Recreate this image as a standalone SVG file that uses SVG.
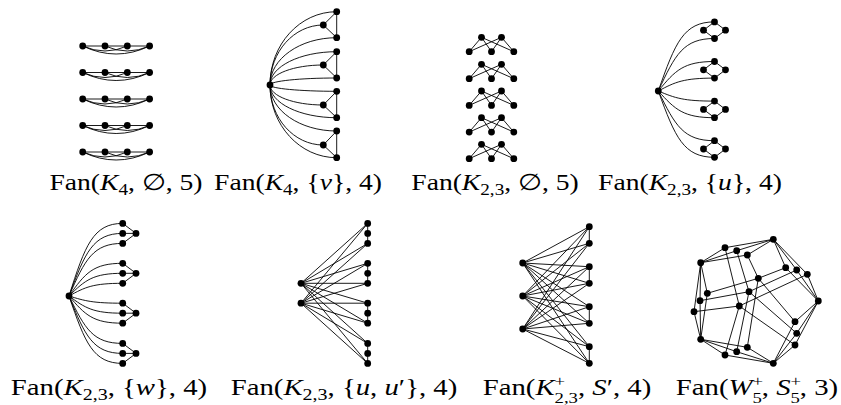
<svg xmlns="http://www.w3.org/2000/svg" width="841" height="405" viewBox="0 0 841 405">
<style>
.e{fill:none;stroke:#000;stroke-width:0.9}
.n{fill:#000}
.lb{font-family:"Liberation Serif","DejaVu Serif",serif;font-size:23px;fill:#000;text-anchor:middle}
.i{font-style:italic}
.s{font-size:16px}
.ss{font-size:15px}
</style>
<rect width="841" height="405" fill="#fff"/>
<g id="connectors">
<!-- panel 1 -->
<path class="e" d="M82.7 46H149.6M82.7 46Q105 56 127.3 46M105 46Q127.3 56 149.6 46M82.7 46Q116.15 62 149.6 46"/>
<path class="e" d="M82.7 72.5H149.6M82.7 72.5Q105 82.5 127.3 72.5M105 72.5Q127.3 82.5 149.6 72.5M82.7 72.5Q116.15 88.5 149.6 72.5"/>
<path class="e" d="M82.7 99H149.6M82.7 99Q105 109 127.3 99M105 99Q127.3 109 149.6 99M82.7 99Q116.15 115 149.6 99"/>
<path class="e" d="M82.7 125.5H149.6M82.7 125.5Q105 135.5 127.3 125.5M105 125.5Q127.3 135.5 149.6 125.5M82.7 125.5Q116.15 141.5 149.6 125.5"/>
<path class="e" d="M82.7 152H149.6M82.7 152Q105 162 127.3 152M105 152Q127.3 162 149.6 152M82.7 152Q116.15 168 149.6 152"/>
<!-- panel 2 -->
<path class="e" d="M270 85C270 44.5 299.9 11.7 336.7 11.7M270 85C270 51.9 293.9 25 323.3 25M270 85C270 58.9 299.9 37.7 336.7 37.7M270 85C270 66.6 299.9 51.7 336.7 51.7M270 85C270 74 293.9 65 323.3 65M270 85C270 81.1 299.9 78 336.7 78M270 85C270 88.5 299.9 91.3 336.7 91.3M270 85C270 96 293.9 105 323.3 105M270 85C270 103.1 299.9 117.7 336.7 117.7M270 85C270 110.4 299.9 131 336.7 131M270 85C270 118.1 293.9 145 323.3 145M270 85C270 125.1 299.9 157.7 336.7 157.7"/>
<path class="e" d="M336.7 11.7V37.7L323.3 25Z M336.7 51.7V78L323.3 65Z M336.7 91.3V117.7L323.3 105Z M336.7 131V157.7L323.3 145Z"/>
<!-- panel 3 -->
<path class="e" d="M469.2 51.7L481.5 37.3L491.5 51.7M481.5 37.3L513.8 51.7M469.2 51.7L501.5 37.3L491.5 51.7M501.5 37.3L513.8 51.7"/>
<path class="e" d="M469.2 78.7L481.5 64.3L491.5 78.7M481.5 64.3L513.8 78.7M469.2 78.7L501.5 64.3L491.5 78.7M501.5 64.3L513.8 78.7"/>
<path class="e" d="M469.2 105.4L481.5 91L491.5 105.4M481.5 91L513.8 105.4M469.2 105.4L501.5 91L491.5 105.4M501.5 91L513.8 105.4"/>
<path class="e" d="M469.2 132.1L481.5 117.7L491.5 132.1M481.5 117.7L513.8 132.1M469.2 132.1L501.5 117.7L491.5 132.1M501.5 117.7L513.8 132.1"/>
<path class="e" d="M469.2 158.7L481.5 144.3L491.5 158.7M481.5 144.3L513.8 158.7M469.2 158.7L501.5 144.3L491.5 158.7M501.5 144.3L513.8 158.7"/>
<!-- panel 4 -->
<path class="e" d="M658.3 91C675.2 42.6 683.6 21.9 714.5 21.9M658.3 91C675.2 54.3 683.6 38.5 714.5 38.5M658.3 91C675.2 70.4 683.6 61.5 714.5 61.5M658.3 91C675.2 82 683.6 78.1 714.5 78.1M658.3 91C675.2 98.1 683.6 101.1 714.5 101.1M658.3 91C675.2 109.7 683.6 117.7 714.5 117.7M658.3 91C675.2 125.8 683.6 140.7 714.5 140.7M658.3 91C675.2 137.4 683.6 157.3 714.5 157.3"/>
<path class="e" d="M714.5 21.9L703.5 30.2L714.5 38.5L725.5 30.2Z M714.5 61.5L703.5 69.8L714.5 78.1L725.5 69.8Z M714.5 101.1L703.5 109.4L714.5 117.7L725.5 109.4Z M714.5 140.7L703.5 149L714.5 157.3L725.5 149Z"/>
<!-- panel 5 -->
<path class="e" d="M69 296C85.1 245.2 93.2 223.4 122.7 223.4M69 296C85.1 252.2 93.2 233.4 122.7 233.4M69 296C85.1 259.2 93.2 243.4 122.7 243.4M69 296C85.1 273.1 93.2 263.3 122.7 263.3M69 296C85.1 280.1 93.2 273.3 122.7 273.3M69 296C85.1 287.1 93.2 283.3 122.7 283.3M69 296C85.1 301 93.2 303.2 122.7 303.2M69 296C85.1 308 93.2 313.2 122.7 313.2M69 296C85.1 315 93.2 323.2 122.7 323.2M69 296C85.1 329.2 93.2 343.4 122.7 343.4M69 296C85.1 336.2 93.2 353.4 122.7 353.4M69 296C85.1 343.2 93.2 363.4 122.7 363.4"/>
<path class="e" d="M122.7 223.4L136 233.4L122.7 243.4M122.7 233.4H136 M122.7 263.3L136 273.3L122.7 283.3M122.7 273.3H136 M122.7 303.2L136 313.2L122.7 323.2M122.7 313.2H136 M122.7 343.4L136 353.4L122.7 363.4M122.7 353.4H136"/>
<!-- panel 6 -->
<path class="e" d="M301 283.3L367.7 223.4M301 283.3L367.7 243.4M301 283.3L367.7 263.3M301 283.3L367.7 283.3M301 283.3L367.7 303.2M301 283.3L367.7 323.2M301 283.3L367.7 343.4M301 283.3L367.7 363.4M301 303.2L367.7 223.4M301 303.2L367.7 243.4M301 303.2L367.7 263.3M301 303.2L367.7 283.3M301 303.2L367.7 303.2M301 303.2L367.7 323.2M301 303.2L367.7 343.4M301 303.2L367.7 363.4"/>
<path class="e" d="M367.7 223.4V243.4M367.7 263.3V283.3M367.7 303.2V323.2M367.7 343.4V363.4"/>
<!-- panel 7 -->
<path class="e" d="M522.7 263L589.3 226.7M522.7 263L589.3 243.3M522.7 263L589.3 266.7M522.7 263L589.3 283.3M522.7 263L589.3 306.7M522.7 263L589.3 323.3M522.7 263L589.3 346.7M522.7 263L589.3 363.3"/>
<path class="e" d="M522.7 296L589.3 226.7M522.7 296L589.3 243.3M522.7 296L589.3 266.7M522.7 296L589.3 283.3M522.7 296L589.3 306.7M522.7 296L589.3 323.3M522.7 296L589.3 346.7M522.7 296L589.3 363.3"/>
<path class="e" d="M522.7 329L589.3 226.7M522.7 329L589.3 243.3M522.7 329L589.3 266.7M522.7 329L589.3 283.3M522.7 329L589.3 306.7M522.7 329L589.3 323.3M522.7 329L589.3 346.7M522.7 329L589.3 363.3"/>
<path class="e" d="M589.3 226.7V243.3M589.3 266.7V283.3M589.3 306.7V323.3M589.3 346.7V363.3"/>
<!-- panel 8 -->
<path class="e" d="M773.3 239.3L725 247.7M773.3 239.3L736.7 250.7M773.3 239.3L747.3 255M773.3 239.3L785.7 267.7M773.3 239.3L796.7 270M773.3 239.3L807.3 274.3"/>
<path class="e" d="M700.7 262.7L725 247.7M700.7 262.7L736.7 250.7M700.7 262.7L747.3 255M700.7 262.7L707.3 293.3M700.7 262.7L700 300.7M700.7 262.7L694 311.7"/>
<path class="e" d="M818.3 301L785.7 267.7M818.3 301L796.7 270M818.3 301L807.3 274.3M818.3 301L795 321.7M818.3 301L796.7 333.3M818.3 301L795 345"/>
<path class="e" d="M773.3 363.3L795 321.7M773.3 363.3L796.7 333.3M773.3 363.3L795 345M773.3 363.3L747.3 347.3M773.3 363.3L736.7 351.7M773.3 363.3L725 355"/>
<path class="e" d="M700.7 339.3L747.3 347.3M700.7 339.3L736.7 351.7M700.7 339.3L725 355M700.7 339.3L707.3 293.3M700.7 339.3L700 300.7M700.7 339.3L694 311.7"/>
<path class="e" d="M758.3 278.3L747.3 255M758.3 278.3L785.7 267.7M758.3 278.3L795 321.7M758.3 278.3L747.3 347.3M758.3 278.3L707.3 293.3"/>
<path class="e" d="M749 291.7L736.7 250.7M749 291.7L796.7 270M749 291.7L796.7 333.3M749 291.7L736.7 351.7M749 291.7L700 300.7"/>
<path class="e" d="M739.3 306L725 247.7M739.3 306L807.3 274.3M739.3 306L795 345M739.3 306L725 355M739.3 306L694 311.7"/>
</g>
<g id="nodes">
<g id="panel1">
<circle id="p1a1" class="n" cx="82.7" cy="46" r="3.4"/><circle id="p1b1" class="n" cx="105" cy="46" r="3.4"/><circle id="p1c1" class="n" cx="127.3" cy="46" r="3.4"/><circle id="p1d1" class="n" cx="149.6" cy="46" r="3.4"/>
<circle id="p1a2" class="n" cx="82.7" cy="72.5" r="3.4"/><circle id="p1b2" class="n" cx="105" cy="72.5" r="3.4"/><circle id="p1c2" class="n" cx="127.3" cy="72.5" r="3.4"/><circle id="p1d2" class="n" cx="149.6" cy="72.5" r="3.4"/>
<circle id="p1a3" class="n" cx="82.7" cy="99" r="3.4"/><circle id="p1b3" class="n" cx="105" cy="99" r="3.4"/><circle id="p1c3" class="n" cx="127.3" cy="99" r="3.4"/><circle id="p1d3" class="n" cx="149.6" cy="99" r="3.4"/>
<circle id="p1a4" class="n" cx="82.7" cy="125.5" r="3.4"/><circle id="p1b4" class="n" cx="105" cy="125.5" r="3.4"/><circle id="p1c4" class="n" cx="127.3" cy="125.5" r="3.4"/><circle id="p1d4" class="n" cx="149.6" cy="125.5" r="3.4"/>
<circle id="p1a5" class="n" cx="82.7" cy="152" r="3.4"/><circle id="p1b5" class="n" cx="105" cy="152" r="3.4"/><circle id="p1c5" class="n" cx="127.3" cy="152" r="3.4"/><circle id="p1d5" class="n" cx="149.6" cy="152" r="3.4"/>
</g>
<g id="panel2">
<circle id="p2hub" class="n" cx="270" cy="85" r="3.4"/>
<circle id="p2t1" class="n" cx="336.7" cy="11.7" r="3.4"/><circle id="p2m1" class="n" cx="323.3" cy="25" r="3.4"/><circle id="p2b1" class="n" cx="336.7" cy="37.7" r="3.4"/>
<circle id="p2t2" class="n" cx="336.7" cy="51.7" r="3.4"/><circle id="p2m2" class="n" cx="323.3" cy="65" r="3.4"/><circle id="p2b2" class="n" cx="336.7" cy="78" r="3.4"/>
<circle id="p2t3" class="n" cx="336.7" cy="91.3" r="3.4"/><circle id="p2m3" class="n" cx="323.3" cy="105" r="3.4"/><circle id="p2b3" class="n" cx="336.7" cy="117.7" r="3.4"/>
<circle id="p2t4" class="n" cx="336.7" cy="131" r="3.4"/><circle id="p2m4" class="n" cx="323.3" cy="145" r="3.4"/><circle id="p2b4" class="n" cx="336.7" cy="157.7" r="3.4"/>
</g>
<g id="panel3">
<circle id="p3u1a" class="n" cx="481.5" cy="37.3" r="3.4"/><circle id="p3u1b" class="n" cx="501.5" cy="37.3" r="3.4"/><circle id="p3l1a" class="n" cx="469.2" cy="51.7" r="3.4"/><circle id="p3l1b" class="n" cx="491.5" cy="51.7" r="3.4"/><circle id="p3l1c" class="n" cx="513.8" cy="51.7" r="3.4"/>
<circle id="p3u2a" class="n" cx="481.5" cy="64.3" r="3.4"/><circle id="p3u2b" class="n" cx="501.5" cy="64.3" r="3.4"/><circle id="p3l2a" class="n" cx="469.2" cy="78.7" r="3.4"/><circle id="p3l2b" class="n" cx="491.5" cy="78.7" r="3.4"/><circle id="p3l2c" class="n" cx="513.8" cy="78.7" r="3.4"/>
<circle id="p3u3a" class="n" cx="481.5" cy="91" r="3.4"/><circle id="p3u3b" class="n" cx="501.5" cy="91" r="3.4"/><circle id="p3l3a" class="n" cx="469.2" cy="105.4" r="3.4"/><circle id="p3l3b" class="n" cx="491.5" cy="105.4" r="3.4"/><circle id="p3l3c" class="n" cx="513.8" cy="105.4" r="3.4"/>
<circle id="p3u4a" class="n" cx="481.5" cy="117.7" r="3.4"/><circle id="p3u4b" class="n" cx="501.5" cy="117.7" r="3.4"/><circle id="p3l4a" class="n" cx="469.2" cy="132.1" r="3.4"/><circle id="p3l4b" class="n" cx="491.5" cy="132.1" r="3.4"/><circle id="p3l4c" class="n" cx="513.8" cy="132.1" r="3.4"/>
<circle id="p3u5a" class="n" cx="481.5" cy="144.3" r="3.4"/><circle id="p3u5b" class="n" cx="501.5" cy="144.3" r="3.4"/><circle id="p3l5a" class="n" cx="469.2" cy="158.7" r="3.4"/><circle id="p3l5b" class="n" cx="491.5" cy="158.7" r="3.4"/><circle id="p3l5c" class="n" cx="513.8" cy="158.7" r="3.4"/>
</g>
<g id="panel4">
<circle id="p4hub" class="n" cx="658.3" cy="91" r="3.4"/>
<circle id="p4t1" class="n" cx="714.5" cy="21.9" r="3.4"/><circle id="p4l1" class="n" cx="703.5" cy="30.2" r="3.4"/><circle id="p4r1" class="n" cx="725.5" cy="30.2" r="3.4"/><circle id="p4b1" class="n" cx="714.5" cy="38.5" r="3.4"/>
<circle id="p4t2" class="n" cx="714.5" cy="61.5" r="3.4"/><circle id="p4l2" class="n" cx="703.5" cy="69.8" r="3.4"/><circle id="p4r2" class="n" cx="725.5" cy="69.8" r="3.4"/><circle id="p4b2" class="n" cx="714.5" cy="78.1" r="3.4"/>
<circle id="p4t3" class="n" cx="714.5" cy="101.1" r="3.4"/><circle id="p4l3" class="n" cx="703.5" cy="109.4" r="3.4"/><circle id="p4r3" class="n" cx="725.5" cy="109.4" r="3.4"/><circle id="p4b3" class="n" cx="714.5" cy="117.7" r="3.4"/>
<circle id="p4t4" class="n" cx="714.5" cy="140.7" r="3.4"/><circle id="p4l4" class="n" cx="703.5" cy="149" r="3.4"/><circle id="p4r4" class="n" cx="725.5" cy="149" r="3.4"/><circle id="p4b4" class="n" cx="714.5" cy="157.3" r="3.4"/>
</g>
<g id="panel5">
<circle id="p5hub" class="n" cx="69" cy="296" r="3.4"/>
<circle id="p5a1" class="n" cx="122.7" cy="223.4" r="3.4"/><circle id="p5b1" class="n" cx="122.7" cy="233.4" r="3.4"/><circle id="p5c1" class="n" cx="122.7" cy="243.4" r="3.4"/><circle id="p5r1" class="n" cx="136" cy="233.4" r="3.4"/>
<circle id="p5a2" class="n" cx="122.7" cy="263.3" r="3.4"/><circle id="p5b2" class="n" cx="122.7" cy="273.3" r="3.4"/><circle id="p5c2" class="n" cx="122.7" cy="283.3" r="3.4"/><circle id="p5r2" class="n" cx="136" cy="273.3" r="3.4"/>
<circle id="p5a3" class="n" cx="122.7" cy="303.2" r="3.4"/><circle id="p5b3" class="n" cx="122.7" cy="313.2" r="3.4"/><circle id="p5c3" class="n" cx="122.7" cy="323.2" r="3.4"/><circle id="p5r3" class="n" cx="136" cy="313.2" r="3.4"/>
<circle id="p5a4" class="n" cx="122.7" cy="343.4" r="3.4"/><circle id="p5b4" class="n" cx="122.7" cy="353.4" r="3.4"/><circle id="p5c4" class="n" cx="122.7" cy="363.4" r="3.4"/><circle id="p5r4" class="n" cx="136" cy="353.4" r="3.4"/>
</g>
<g id="panel6">
<circle id="p6h1" class="n" cx="301" cy="283.3" r="3.4"/><circle id="p6h2" class="n" cx="301" cy="303.2" r="3.4"/>
<circle id="p6a1" class="n" cx="367.7" cy="223.4" r="3.4"/><circle id="p6b1" class="n" cx="367.7" cy="233.4" r="3.4"/><circle id="p6c1" class="n" cx="367.7" cy="243.4" r="3.4"/>
<circle id="p6a2" class="n" cx="367.7" cy="263.3" r="3.4"/><circle id="p6b2" class="n" cx="367.7" cy="273.3" r="3.4"/><circle id="p6c2" class="n" cx="367.7" cy="283.3" r="3.4"/>
<circle id="p6a3" class="n" cx="367.7" cy="303.2" r="3.4"/><circle id="p6b3" class="n" cx="367.7" cy="313.2" r="3.4"/><circle id="p6c3" class="n" cx="367.7" cy="323.2" r="3.4"/>
<circle id="p6a4" class="n" cx="367.7" cy="343.4" r="3.4"/><circle id="p6b4" class="n" cx="367.7" cy="353.4" r="3.4"/><circle id="p6c4" class="n" cx="367.7" cy="363.4" r="3.4"/>
</g>
<g id="panel7">
<circle id="p7h1" class="n" cx="522.7" cy="263" r="3.4"/><circle id="p7h2" class="n" cx="522.7" cy="296" r="3.4"/><circle id="p7h3" class="n" cx="522.7" cy="329" r="3.4"/>
<circle id="p7a1" class="n" cx="589.3" cy="226.7" r="3.4"/><circle id="p7b1" class="n" cx="589.3" cy="243.3" r="3.4"/>
<circle id="p7a2" class="n" cx="589.3" cy="266.7" r="3.4"/><circle id="p7b2" class="n" cx="589.3" cy="283.3" r="3.4"/>
<circle id="p7a3" class="n" cx="589.3" cy="306.7" r="3.4"/><circle id="p7b3" class="n" cx="589.3" cy="323.3" r="3.4"/>
<circle id="p7a4" class="n" cx="589.3" cy="346.7" r="3.4"/><circle id="p7b4" class="n" cx="589.3" cy="363.3" r="3.4"/>
</g>
<g id="panel8">
<circle id="p8A" class="n" cx="773.3" cy="239.3" r="3.4"/><circle id="p8B" class="n" cx="725" cy="247.7" r="3.4"/><circle id="p8C" class="n" cx="736.7" cy="250.7" r="3.4"/><circle id="p8D" class="n" cx="747.3" cy="255" r="3.4"/>
<circle id="p8E" class="n" cx="700.7" cy="262.7" r="3.4"/><circle id="p8F" class="n" cx="785.7" cy="267.7" r="3.4"/><circle id="p8G" class="n" cx="796.7" cy="270" r="3.4"/><circle id="p8H" class="n" cx="807.3" cy="274.3" r="3.4"/>
<circle id="p8I" class="n" cx="758.3" cy="278.3" r="3.4"/><circle id="p8J" class="n" cx="707.3" cy="293.3" r="3.4"/><circle id="p8K" class="n" cx="749" cy="291.7" r="3.4"/><circle id="p8L" class="n" cx="700" cy="300.7" r="3.4"/>
<circle id="p8M" class="n" cx="818.3" cy="301" r="3.4"/><circle id="p8N" class="n" cx="694" cy="311.7" r="3.4"/><circle id="p8O" class="n" cx="739.3" cy="306" r="3.4"/><circle id="p8P" class="n" cx="795" cy="321.7" r="3.4"/>
<circle id="p8Q" class="n" cx="796.7" cy="333.3" r="3.4"/><circle id="p8R" class="n" cx="795" cy="345" r="3.4"/><circle id="p8S" class="n" cx="700.7" cy="339.3" r="3.4"/><circle id="p8T" class="n" cx="747.3" cy="347.3" r="3.4"/>
<circle id="p8U" class="n" cx="736.7" cy="351.7" r="3.4"/><circle id="p8V" class="n" cx="725" cy="355" r="3.4"/><circle id="p8W" class="n" cx="773.3" cy="363.3" r="3.4"/>
</g>
</g>
<g id="labels">
<text class="lb" transform="translate(126,190) scale(1.2,1)">Fan(<tspan class="i">K</tspan><tspan class="s" dy="4.5">4</tspan><tspan dy="-4.5">, ∅, 5)</tspan></text>
<text class="lb" transform="translate(298,190) scale(1.2,1)">Fan(<tspan class="i">K</tspan><tspan class="s" dy="4.5">4</tspan><tspan dy="-4.5">, {</tspan><tspan class="i">v</tspan>}, 4)</text>
<text class="lb" transform="translate(495,190) scale(1.2,1)">Fan(<tspan class="i">K</tspan><tspan class="s" dy="4.5">2,3</tspan><tspan dy="-4.5">, ∅, 5)</tspan></text>
<text class="lb" transform="translate(690,190) scale(1.2,1)">Fan(<tspan class="i">K</tspan><tspan class="s" dy="4.5">2,3</tspan><tspan dy="-4.5">, {</tspan><tspan class="i">u</tspan>}, 4)</text>
<text class="lb" transform="translate(109,395) scale(1.25,1)">Fan(<tspan class="i">K</tspan><tspan class="s" dy="4.5">2,3</tspan><tspan dy="-4.5">, {</tspan><tspan class="i">w</tspan>}, 4)</text>
<text class="lb" transform="translate(344,395) scale(1.25,1)">Fan(<tspan class="i">K</tspan><tspan class="s" dy="4.5">2,3</tspan><tspan dy="-4.5">, {</tspan><tspan class="i">u</tspan>, <tspan class="i">u</tspan>′}, 4)</text>
<text class="lb" transform="translate(567,395) scale(1.25,1)">Fan(<tspan class="i">K</tspan><tspan class="ss" dy="-9.5">+</tspan><tspan class="ss" dx="-8.5" dy="17.5">2,3</tspan><tspan dy="-8">, </tspan><tspan class="i">S</tspan>′, 4)</text>
<text class="lb" transform="translate(757,395) scale(1.25,1)">Fan(<tspan class="i">W</tspan><tspan class="ss" dy="-9.5">+</tspan><tspan class="ss" dx="-8.5" dy="17.5">5</tspan><tspan dy="-8">, </tspan><tspan class="i">S</tspan><tspan class="ss" dy="-9.5">+</tspan><tspan class="ss" dx="-8.5" dy="17.5">5</tspan><tspan dy="-8">, 3)</tspan></text>
</g>
</svg>
